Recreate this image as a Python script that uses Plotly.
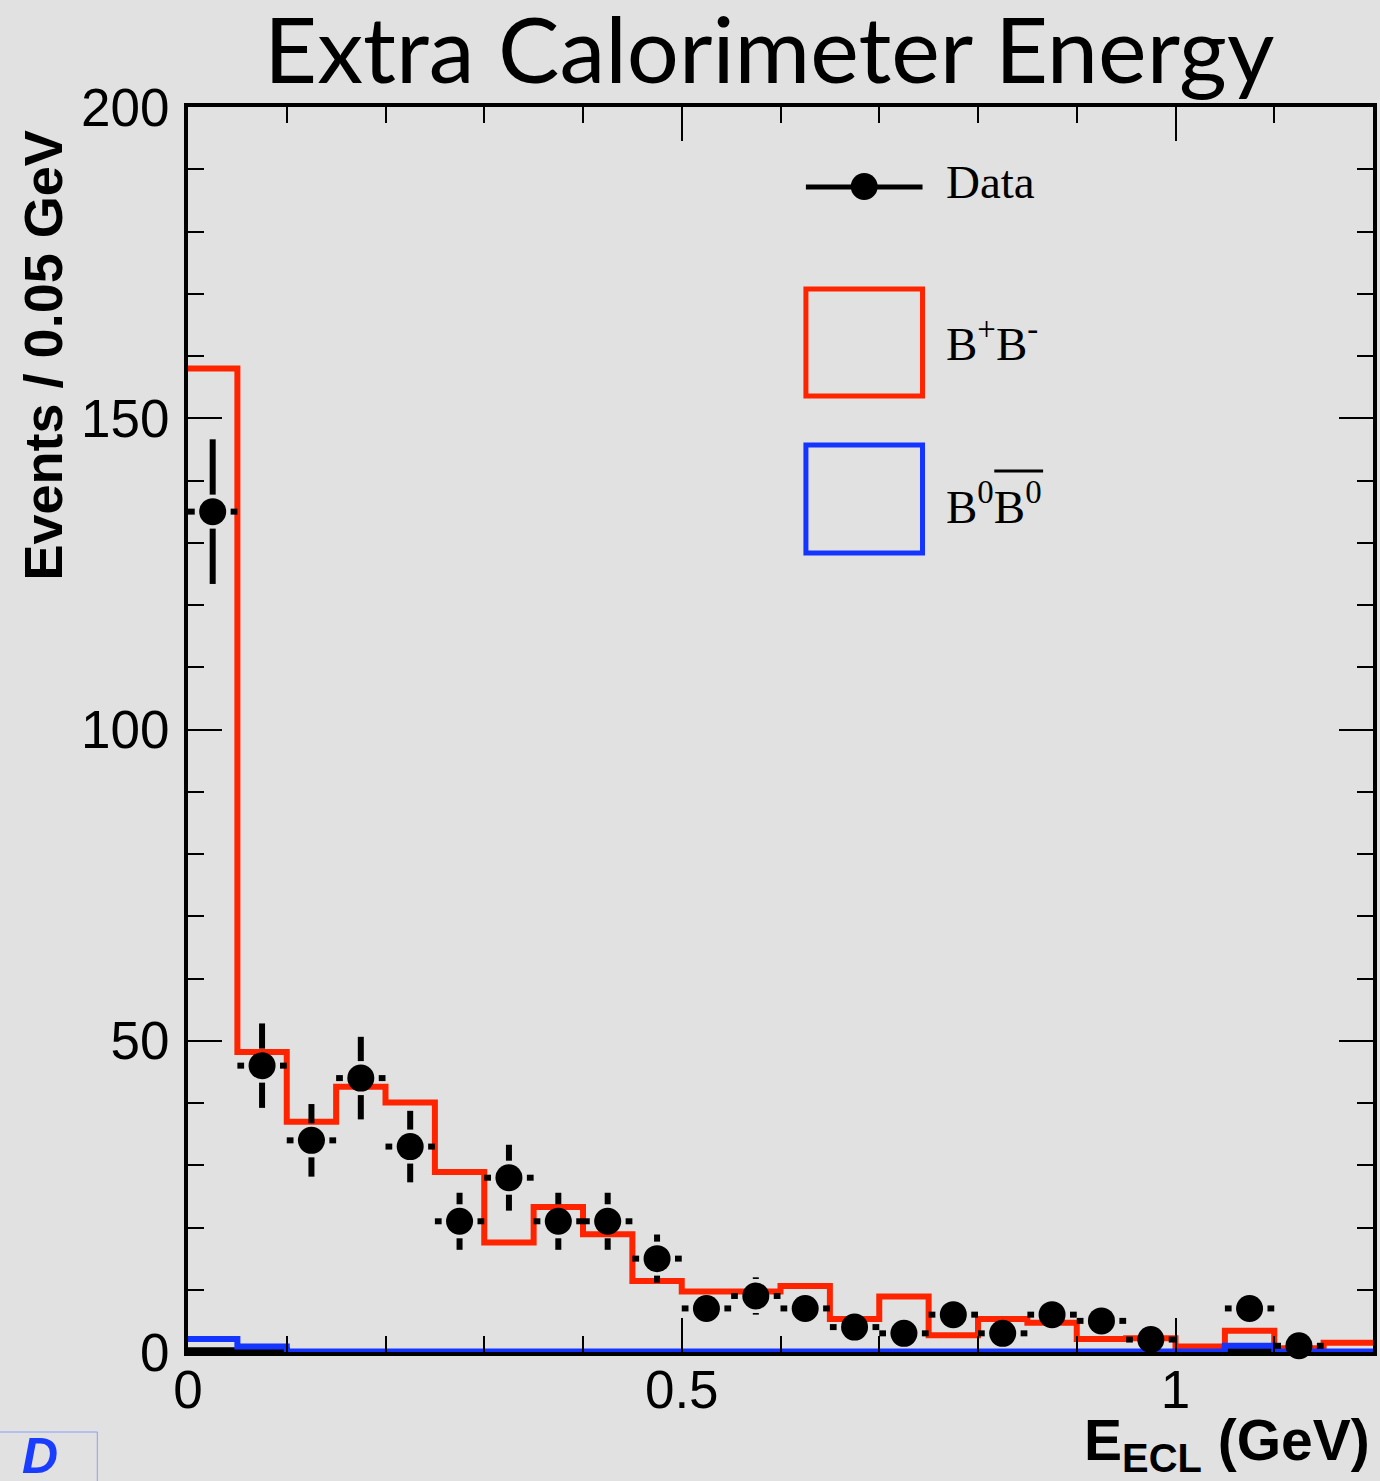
import math
import plotly.graph_objects as go

# ---------------- data ----------------
bin_edges = [0.00, 0.05, 0.10, 0.15, 0.20, 0.25, 0.30, 0.35, 0.40, 0.45, 0.50, 0.55,
             0.60, 0.65, 0.70, 0.75, 0.80, 0.85, 0.90, 0.95, 1.00, 1.05, 1.10, 1.15, 1.20]
data_counts = [135, 46, 34, 44, 33, 21, 28, 21, 21, 15, 7, 9,
               7, 4, 3, 6, 3, 6, 5, 2, 0, 7, 1, 0]
bpbm_hist = [158.0, 48.2, 37.0, 42.6, 40.1, 28.9, 17.6, 23.3, 18.9, 11.4, 9.7, 9.7,
             10.6, 5.3, 8.9, 2.7, 5.3, 4.7, 2.1, 2.2, 0.9, 3.4, 0.6, 1.5]
b0b0_hist = [2.1, 0.9, 0.1, 0.1, 0.1, 0.1, 0.1, 0.1, 0.1, 0.1, 0.1, 0.1,
             0.1, 0.1, 0.1, 0.1, 0.1, 0.1, 0.1, 0.1, 0.1, 1.0, 0.1, 0.1]
other_hist = [0.3, 0.3, 0, 0, 0, 0, 0, 0, 0, 0, 0, 0,
              0, 0, 0, 0, 0, 0, 0, 0, 0, 0.3, 0, 0]
y_ticks = [0, 50, 100, 150, 200]
x_ticks = [0, 0.5, 1]
x_tick_text = ["0", "0.5", "1"]

# ---------------- geometry ----------------
W, H = 1380, 1481
L, R, T, B = 188, 1377, 107, 1352
XR = (0.0, 1.2)
YR = (0.0, 200.0)
ux = (XR[1] - XR[0]) / (R - L)
uy = (YR[1] - YR[0]) / (B - T)


def px(x):
    return (x - L) / (R - L)


def py(y):
    return (B - y) / (B - T)


RED = "#ff2400"
BLUE = "#1434ff"
BG = "#e1e1e1"

centers = [(a + b) / 2 for a, b in zip(bin_edges[:-1], bin_edges[1:])]


def step(vals):
    return list(bin_edges), list(vals) + [vals[-1]]


fig = go.Figure()

# histograms
sx, sy = step(bpbm_hist)
fig.add_trace(go.Scatter(x=sx, y=sy, mode="lines", line=dict(color=RED, width=6, shape="hv"),
                         showlegend=False, hoverinfo="skip", cliponaxis=False))
sx, sy = step(other_hist)
fig.add_trace(go.Scatter(x=sx, y=sy, mode="lines", line=dict(color="black", width=6, shape="hv"),
                         showlegend=False, hoverinfo="skip", cliponaxis=False))
sx, sy = step(b0b0_hist)
fig.add_trace(go.Scatter(x=sx, y=sy, mode="lines", line=dict(color=BLUE, width=6, shape="hv"),
                         showlegend=False, hoverinfo="skip", cliponaxis=False))

# data error bars (ROOT style with gaps around marker)
ex, ey = [], []
gap_y = 17 * uy
gap_x = 18 * ux
for i, (c, n) in enumerate(zip(centers, data_counts)):
    if n <= 0:
        continue
    e = math.sqrt(n)
    hw = (bin_edges[i + 1] - bin_edges[i]) / 2
    if e > gap_y:
        ex += [c, c, None, c, c, None]
        ey += [n + gap_y, n + e, None, n - gap_y, n - e, None]
    ex += [c - hw, c - gap_x, None, c + gap_x, c + hw, None]
    ey += [n, n, None, n, n, None]
fig.add_trace(go.Scatter(x=ex, y=ey, mode="lines", line=dict(color="black", width=6),
                         showlegend=False, hoverinfo="skip", cliponaxis=False))

pts_x = [c for c, n in zip(centers, data_counts) if n > 0]
pts_y = [n for n in data_counts if n > 0]
fig.add_trace(go.Scatter(x=pts_x, y=pts_y, mode="markers",
                         marker=dict(color="black", size=27, line=dict(width=0)),
                         showlegend=False, cliponaxis=False))

# ---------------- layout ----------------
axis_font = dict(family="Liberation Sans, Arial, sans-serif", size=53, color="black")
fig.update_layout(
    width=W, height=H,
    paper_bgcolor=BG, plot_bgcolor="rgba(0,0,0,0)",
    margin=dict(l=L, r=W - R, t=T, b=H - B, pad=0),
    showlegend=False,
    xaxis=dict(range=list(XR), showgrid=False, zeroline=False,
               showline=True, linecolor="black", linewidth=4, mirror="ticks",
               ticks="inside", ticklen=34, tickwidth=2, tickcolor="black",
               tickvals=x_ticks, ticktext=x_tick_text, tickfont=axis_font,
               ticklabelstandoff=-12,
               minor=dict(dtick=0.1, tick0=0, ticks="inside", ticklen=16, tickwidth=2,
                          tickcolor="black", showgrid=False)),
    yaxis=dict(range=list(YR), showgrid=False, zeroline=False,
               showline=True, linecolor="black", linewidth=4, mirror="ticks",
               ticks="inside", ticklen=34, tickwidth=2, tickcolor="black",
               tickvals=y_ticks, tickfont=axis_font, ticklabelstandoff=4,
               minor=dict(dtick=10, tick0=0, ticks="inside", ticklen=16, tickwidth=2,
                          tickcolor="black", showgrid=False)),
)

ann = []
# title
ann.append(dict(text="Extra Calorimeter Energy", x=px(771), y=py(47), xref="paper", yref="paper",
                xanchor="center", yanchor="middle", showarrow=False,
                font=dict(family="Lato, Open Sans, sans-serif", size=92, color="black")))
# y-axis title
ann.append(dict(text="<b>Events / 0.05 GeV</b>", x=px(43), y=py(355), xref="paper", yref="paper",
                xanchor="center", yanchor="middle", textangle=-90, showarrow=False,
                font=dict(family="Liberation Sans, Arial, sans-serif", size=54, color="black")))
# x-axis title
ann.append(dict(text="<b>E<sub>ECL</sub> (GeV)</b>", x=px(1376), y=py(1444), xref="paper", yref="paper",
                xanchor="right", yanchor="middle", showarrow=False,
                font=dict(family="Liberation Sans, Arial, sans-serif", size=57, color="black")))
# legend texts
leg_font = dict(family="Liberation Serif, Times New Roman, serif", size=47, color="black")
ann.append(dict(text="Data", x=px(947), y=py(182), xref="paper", yref="paper",
                xanchor="left", yanchor="middle", showarrow=False, font=leg_font))
ann.append(dict(text="B<sup>+</sup>B<sup>-</sup>", x=px(947), y=py(340), xref="paper", yref="paper",
                xanchor="left", yanchor="middle", showarrow=False, font=leg_font))
ann.append(dict(text="B<sup>0</sup>B<sup>0</sup>", x=px(947), y=py(503), xref="paper", yref="paper",
                xanchor="left", yanchor="middle", showarrow=False, font=leg_font))
# logo
ann.append(dict(text="<b><i>D</i></b>", x=px(40), y=py(1456), xref="paper", yref="paper",
                xanchor="center", yanchor="middle", showarrow=False,
                font=dict(family="Liberation Sans, Arial, sans-serif", size=50, color="#1a3cff")))
fig.update_layout(annotations=ann)

shapes = []
# legend: data line + marker
shapes.append(dict(type="line", xref="paper", yref="paper", x0=px(808), x1=px(925), y0=py(187), y1=py(187),
                   line=dict(color="black", width=5)))
shapes.append(dict(type="circle", xref="paper", yref="paper", x0=px(853), x1=px(880), y0=py(200), y1=py(173),
                   fillcolor="black", line=dict(color="black", width=0)))
# legend boxes
shapes.append(dict(type="rect", xref="paper", yref="paper", x0=px(808), x1=px(925), y0=py(396), y1=py(289),
                   line=dict(color=RED, width=5), fillcolor="rgba(0,0,0,0)"))
shapes.append(dict(type="rect", xref="paper", yref="paper", x0=px(808), x1=px(925), y0=py(553), y1=py(445),
                   line=dict(color=BLUE, width=5), fillcolor="rgba(0,0,0,0)"))
# overline for anti-B0
shapes.append(dict(type="line", xref="paper", yref="paper", x0=px(997), x1=px(1046), y0=py(471), y1=py(471),
                   line=dict(color="black", width=3)))
# logo box
shapes.append(dict(type="rect", xref="paper", yref="paper", x0=px(-2), x1=px(97), y0=py(1485), y1=py(1432),
                   line=dict(color="#8c9cff", width=1), fillcolor="rgba(0,0,0,0)"))
fig.update_layout(shapes=shapes)

fig.write_html("out.html",
               config={"displayModeBar": False},
               post_script="document.body.style.margin='0';document.body.style.padding='0';"
                           "document.body.style.background='" + BG + "';"
                           "document.body.style.overflow='hidden';")
